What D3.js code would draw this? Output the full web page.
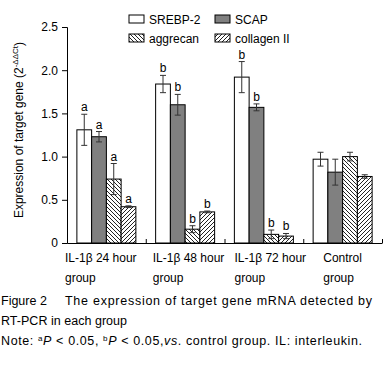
<!DOCTYPE html>
<html>
<head>
<meta charset="UTF-8">
<script src="https://d3js.org/d3.v7.min.js"></script>
<style>
  body { margin: 0; background: #fff; }
  text { font-family: "Liberation Sans", Arial, sans-serif; fill: #000; }
</style>
</head>
<body>
<svg id="chart" width="388" height="365"></svg>
<script>
// data
const groups = ["IL-1β 24 hour", "IL-1β 48 hour", "IL-1β 72 hour", "Control"];
const series = ["SREBP-2", "SCAP", "aggrecan", "collagen II"];
const srebp = [1.31, 1.84, 1.92, 0.97];
const scap = [1.23, 1.60, 1.57, 0.82];
const aggrecan = [0.74, 0.16, 0.10, 1.00];
const collagen = [0.42, 0.36, 0.08, 0.77];
const srebpErr = [0.18, 0.10, 0.18, 0.08];
const scapErr = [0.06, 0.12, 0.04, 0.15];
const aggrecanErr = [0.18, 0.04, 0.05, 0.05];
const collagenErr = [0.01, 0.01, 0.03, 0.02];
const marks = ["a", "b", "b", ""];
const yTicks = [0, 0.5, 1.0, 1.5, 2.0, 2.5];

const values = [srebp, scap, aggrecan, collagen];
const errors = [srebpErr, scapErr, aggrecanErr, collagenErr];

const svg = d3.select("#chart");
const mLeft = 67, mRight = 382, mTop = 27, mBottom = 243;

// hatch patterns
const defs = svg.append("defs");
function hatch(id, dir) {
  const p = defs.append("pattern")
    .attr("id", id)
    .attr("patternUnits", "userSpaceOnUse")
    .attr("width", 4).attr("height", 4);
  p.append("rect").attr("width", 4).attr("height", 4).attr("fill", "#fff");
  const d = dir > 0 ? "M-1,5 L5,-1 M-1,1 L1,-1 M3,5 L5,3" : "M-1,-1 L5,5 M-1,3 L1,5 M3,-1 L5,1";
  p.append("path").attr("d", d).attr("stroke", "#222").attr("stroke-width", 1);
}
hatch("back", -1);
hatch("fwd", 1);
const fills = ["#fff", "#808080", "url(#back)", "url(#fwd)"];

const x0 = d3.scaleBand().domain(groups).range([mLeft, mRight]);
const x1 = d3.scaleBand().domain(series).range([0, x0.bandwidth()]).paddingOuter(0.67);
const y = d3.scaleLinear().domain([0, 2.5]).range([mBottom, mTop]);

// bars
const rows = [];
groups.forEach((g, gi) => series.forEach((s, si) => {
  rows.push({ g, s, gi, si, v: values[si][gi], e: errors[si][gi] });
}));

svg.append("g").selectAll("rect").data(rows).join("rect")
  .attr("x", d => x0(d.g) + x1(d.s))
  .attr("y", d => y(d.v))
  .attr("width", x1.bandwidth())
  .attr("height", d => y(0) - y(d.v))
  .attr("fill", d => fills[d.si])
  .attr("stroke", "#000")
  .attr("stroke-width", 1);

// error bars
const eb = svg.append("g").attr("stroke", "#333").attr("stroke-width", 1);
rows.forEach(d => {
  const cx = x0(d.g) + x1(d.s) + x1.bandwidth() / 2;
  eb.append("line").attr("x1", cx).attr("x2", cx).attr("y1", y(d.v + d.e)).attr("y2", y(d.v - d.e));
  eb.append("line").attr("x1", cx - 3).attr("x2", cx + 3).attr("y1", y(d.v + d.e)).attr("y2", y(d.v + d.e));
  eb.append("line").attr("x1", cx - 3).attr("x2", cx + 3).attr("y1", y(d.v - d.e)).attr("y2", y(d.v - d.e));
});

// significance letters
svg.append("g").selectAll("text").data(rows.filter(d => marks[d.gi])).join("text")
  .attr("x", d => x0(d.g) + x1(d.s) + x1.bandwidth() / 2)
  .attr("y", d => y(d.v + d.e) - 3)
  .attr("text-anchor", "middle")
  .attr("fill", "#000")
  .style("font-size", "12px")
  .text(d => marks[d.gi]);

// axes
svg.append("g")
  .attr("transform", `translate(${mLeft},0)`)
  .call(d3.axisLeft(y).tickValues(yTicks).tickSize(5).tickPadding(4)
    .tickFormat(d => d === 0 ? "0" : d.toFixed(1)))
  .call(g => g.selectAll("text").style("font-size", "12px").attr("fill", "#000"))
  .call(g => g.selectAll("line, path").attr("stroke", "#000"));

const xb = d3.scaleLinear().domain([0, groups.length]).range([mLeft, mRight]);
svg.append("g")
  .attr("transform", `translate(0,${mBottom})`)
  .call(d3.axisBottom(xb).tickValues([1, 2, 3, 4]).tickSize(-4).tickSizeOuter(0).tickFormat(""))
  .call(g => g.selectAll("line, path").attr("stroke", "#000"));

// category labels
const labelDx = [-2, 7, 10, 20];
const catLines = [["IL-1β 24 hour", "group"], ["IL-1β 48 hour", "group"], ["IL-1β 72 hour", "group"], ["Control", "group"]];
groups.forEach((g, i) => {
  const t = svg.append("text").style("font-size", "12px");
  catLines[i].forEach((ln, j) => {
    t.append("tspan").attr("x", x0(g) + labelDx[i]).attr("y", 262 + j * 20).text(ln);
  });
});

// y label
const yl = svg.append("text")
  .attr("transform", "translate(23,130) rotate(-90)")
  .attr("text-anchor", "middle")
  .style("font-size", "12px");
yl.append("tspan").text("Expression of target gene (2");
yl.append("tspan").attr("dy", -5).style("font-size", "8px").text("-ΔΔCt");
yl.append("tspan").attr("dy", 5).text(")");

// legend
const lg = svg.append("g");
series.forEach((s, i) => {
  const lx = 129 + (i % 2) * 86, ly = 15 + Math.floor(i / 2) * 19;
  lg.append("rect").attr("x", lx).attr("y", ly).attr("width", 15).attr("height", 8)
    .attr("fill", fills[i]).attr("stroke", "#000");
  lg.append("text").attr("x", lx + 20).attr("y", ly + 8.5).style("font-size", "12px").text(s);
});

// caption
const cap = svg.append("g").style("font-size", "12.5px");
cap.append("text").attr("x", 1).attr("y", 305).text("Figure 2");
cap.append("text").attr("x", 65).attr("y", 305)
  .attr("textLength", 307).attr("lengthAdjust", "spacing")
  .text("The expression of target gene mRNA detected by");
cap.append("text").attr("x", 1).attr("y", 325)
  .attr("textLength", 126).attr("lengthAdjust", "spacing")
  .text("RT-PCR in each group");
const note = cap.append("text").attr("x", 1).attr("y", 345)
  .attr("textLength", 361).attr("lengthAdjust", "spacing");
note.append("tspan").text("Note: ");
note.append("tspan").attr("dy", -4).style("font-size", "8px").text("a");
note.append("tspan").attr("dy", 4).style("font-style", "italic").text("P");
note.append("tspan").text(" < 0.05, ");
note.append("tspan").attr("dy", -4).style("font-size", "8px").text("b");
note.append("tspan").attr("dy", 4).style("font-style", "italic").text("P");
note.append("tspan").text(" < 0.05,");
note.append("tspan").style("font-style", "italic").text("vs");
note.append("tspan").text(". control group. IL: interleukin.");
</script>
</body>
</html>
